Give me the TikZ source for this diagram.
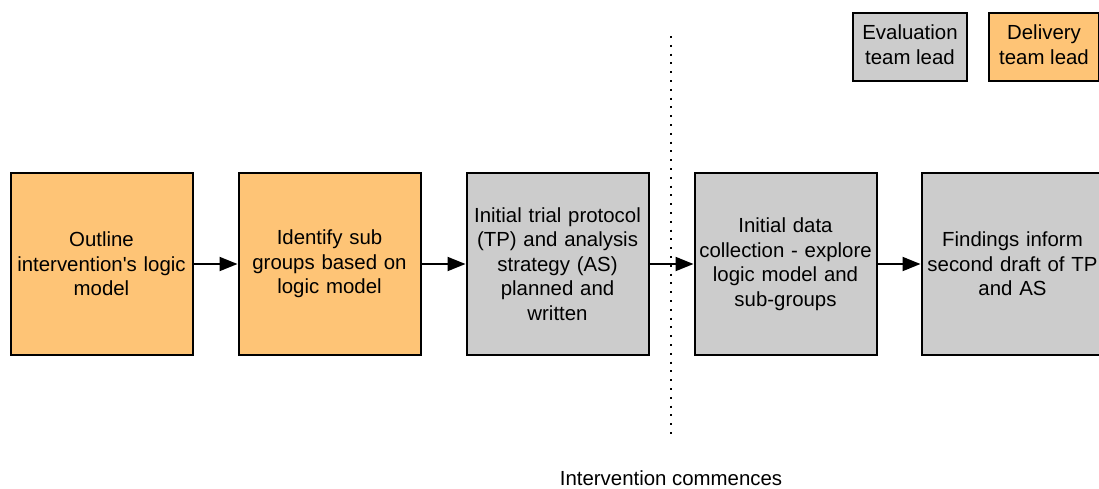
\documentclass[tikz,border=0pt]{standalone}
\usepackage{fontspec}
\setmainfont{Liberation Sans}
\newfontfamily\straightfont{Liberation Sans}
\usetikzlibrary{arrows.meta}
\definecolor{delivery}{HTML}{FEC476}
\definecolor{evaluation}{HTML}{CCCCCC}
\newcommand{\labelfont}{\fontsize{20.4}{24.5}\selectfont}
\newcommand{\apos}{{\straightfont '}}
\tikzset{
  x=1pt, y=-1pt,
  stage/.style={draw=black, line width=2pt, minimum width=182pt, minimum height=182pt,
    text width=176pt, align=center, inner sep=0pt, font=\labelfont},
  legendbox/.style={draw=black, line width=2pt, minimum height=68pt,
    align=center, inner sep=0pt, font=\labelfont},
  flow/.style={line width=2pt, -{Triangle[length=18pt,width=14pt]}},
}
\begin{document}
\begin{tikzpicture}
\useasboundingbox (0,0) rectangle (1099,488);
\begin{scope}
\clip (0,0) rectangle (1099,488);
% legend
\node[legendbox, fill=evaluation, minimum width=114pt] (evl) at (910,47) {\raisebox{1.5pt}{\begin{tabular}{@{}c@{}}Evaluation\\team lead\end{tabular}}};
\node[legendbox, fill=delivery, minimum width=110pt] (dlv) at (1044,47) {\raisebox{1.5pt}{\begin{tabular}{@{}c@{}}Delivery\\team lead\end{tabular}}};
% intervention start marker
\coordinate (mtop) at (671,36);
\coordinate (mbot) at (671,440);
\draw[line width=2pt, dash pattern=on 2pt off 6.8pt] (mtop) -- (mbot);
\node[font=\labelfont] (start) at (671,478) {Intervention commences};
% stages
\node[stage, fill=delivery] (s1) at (101.5,264) {Outline\\intervention\apos s logic\\model};
\node[stage, fill=delivery] (s2) at (329.5,264) {Identify sub\\groups based on\\logic model};
\node[stage, fill=evaluation] (s3) at (557.5,264) {Initial trial protocol\\(TP) and analysis\\strategy (AS)\\planned and\\written};
\node[stage, fill=evaluation] (s4) at (785.5,264) {Initial data\\collection - explore\\logic model and\\sub-groups};
\node[stage, fill=evaluation] (s5) at (1012.5,264) {Findings inform\\second draft of TP\\and AS};
\draw[flow] (s1) -- (s2);
\draw[flow] (s2) -- (s3);
\draw[flow] (s3) -- (s4);
\draw[flow] (s4) -- (s5);
\end{scope}
\end{tikzpicture}
\end{document}
